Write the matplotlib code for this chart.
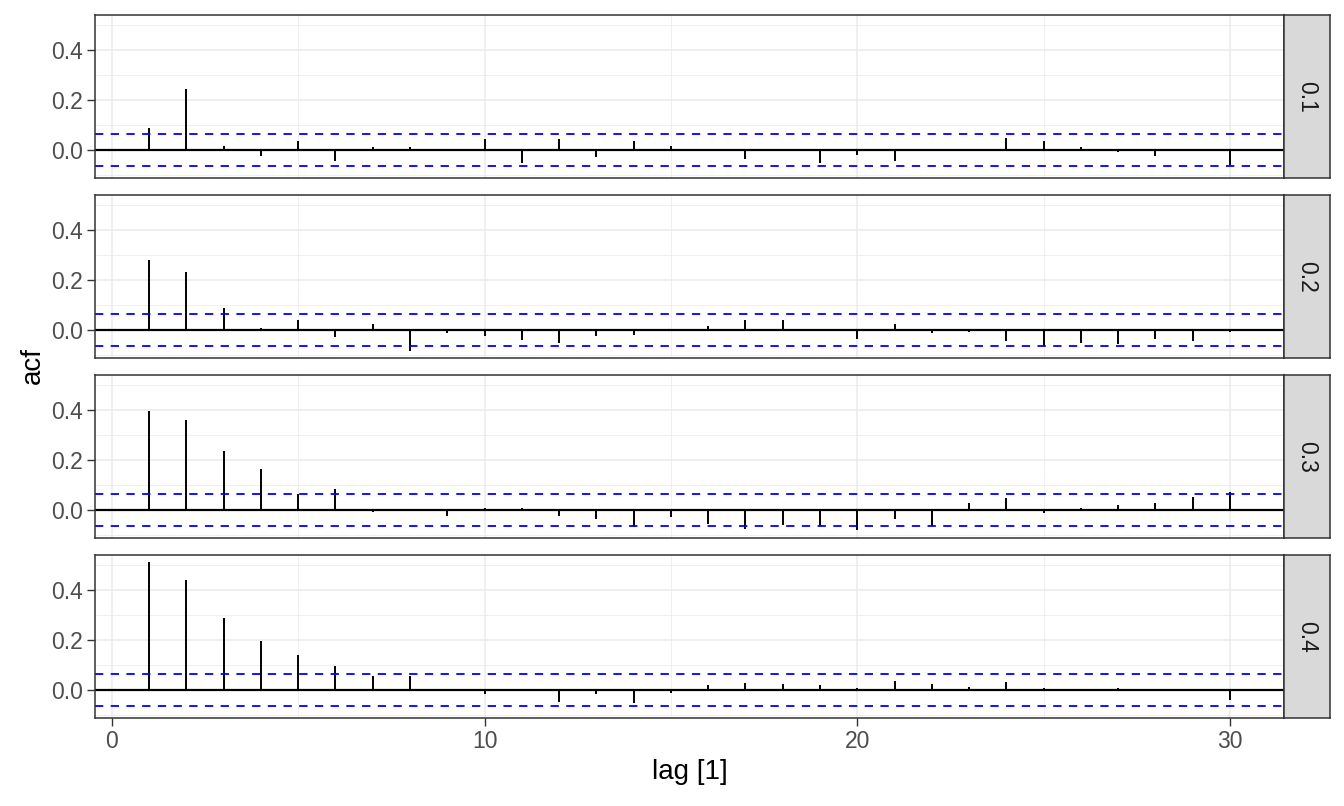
import matplotlib
matplotlib.use("Agg")
import matplotlib.pyplot as plt
from matplotlib.ticker import MultipleLocator

plt.rcParams['font.family'] = ['Liberation Sans', 'DejaVu Sans']

# Data
lags = list(range(1, 31))
panel_labels = ["0.1", "0.2", "0.3", "0.4"]
acf_01 = [0.090, 0.246, 0.015, -0.024, 0.035, -0.044, 0.011, 0.011, 0.002, 0.046,
          -0.053, 0.046, -0.029, 0.035, 0.015, 0.003, -0.036, 0.002, -0.052, -0.020,
          -0.044, 0.002, 0.002, 0.050, 0.035, 0.011, -0.008, -0.024, 0.002, -0.060]
acf_02 = [0.282, 0.234, 0.090, 0.007, 0.039, -0.028, 0.023, -0.084, -0.012, -0.024,
          -0.040, -0.052, -0.024, -0.020, 0.002, 0.015, 0.042, 0.042, 0.002, -0.036,
          0.023, -0.012, -0.008, -0.044, -0.064, -0.052, -0.056, -0.036, -0.044, -0.008]
acf_03 = [0.397, 0.361, 0.238, 0.166, 0.066, 0.086, -0.008, 0.002, -0.024, 0.007,
          0.007, -0.024, -0.036, -0.068, -0.028, -0.057, -0.076, -0.060, -0.064, -0.080,
          -0.036, -0.064, 0.027, 0.050, -0.012, 0.007, 0.019, 0.027, 0.054, 0.074]
acf_04 = [0.513, 0.441, 0.290, 0.198, 0.142, 0.098, 0.058, 0.058, 0.002, -0.016,
          0.002, -0.048, -0.016, -0.052, -0.012, 0.019, 0.027, 0.023, 0.019, 0.007,
          0.035, 0.023, 0.011, 0.031, 0.007, 0.002, 0.007, 0.002, 0.002, -0.040]
all_acf = [acf_01, acf_02, acf_03, acf_04]
ci = 0.0635

W, H = 1344, 806
fig = plt.figure(figsize=(W / 100, H / 100), dpi=100)

# panel geometry in pixels
left, right = 95, 1284
strip_w = 46
tops = [15, 195, 375, 555]
ph = 163

def px_rect(x0, y0, w, h):
    return [x0 / W, 1 - (y0 + h) / H, w / W, h / H]

grey20 = "#333333"
for i, (vals, lab) in enumerate(zip(all_acf, panel_labels)):
    ax = fig.add_axes(px_rect(left, tops[i], right - left, ph))
    ax.set_xlim(-0.45, 31.45)
    ax.set_ylim(-0.112, 0.541)
    ax.xaxis.set_major_locator(MultipleLocator(10))
    ax.xaxis.set_minor_locator(MultipleLocator(5))
    ax.yaxis.set_major_locator(MultipleLocator(0.2))
    ax.yaxis.set_minor_locator(MultipleLocator(0.1))
    ax.grid(which="major", color="#EBEBEB", linewidth=1.1)
    ax.grid(which="minor", color="#EBEBEB", linewidth=0.55)
    ax.set_axisbelow(True)
    ax.tick_params(which="minor", length=0)
    ax.tick_params(which="major", length=6, width=1, color=grey20,
                   labelsize=16.5, labelcolor="#4D4D4D", pad=3)
    ax.yaxis.set_major_formatter(plt.FuncFormatter(lambda v, p: f"{v:.1f}"))
    for s in ax.spines.values():
        s.set_color(grey20)
        s.set_linewidth(1.1)

    ax.vlines(lags, 0, vals, color="black", linewidth=1.4)
    ax.axhline(0, color="black", linewidth=1.6)
    for c in (ci, -ci):
        ax.axhline(c, color="#0000FF", linewidth=1.3, linestyle=(0, (4.6, 4.1)))

    if i < 3:
        ax.tick_params(axis="x", which="both", length=0, labelbottom=False)
    else:
        ax.set_xlabel("lag [1]", fontsize=20, labelpad=4)

    # facet strip
    sx = fig.add_axes(px_rect(right, tops[i], strip_w, ph))
    sx.set_facecolor("#D9D9D9")
    sx.set_xticks([])
    sx.set_yticks([])
    for s in sx.spines.values():
        s.set_color(grey20)
        s.set_linewidth(1.1)
    sx.text(0.5, 0.5, lab, rotation=270, ha="center", va="center",
            fontsize=16.5, color="#1A1A1A", transform=sx.transAxes)

fig.text(33 / W, 1 - 366 / H, "acf", rotation=90, ha="center", va="center", fontsize=20)

fig.savefig("out.png", dpi=100)
